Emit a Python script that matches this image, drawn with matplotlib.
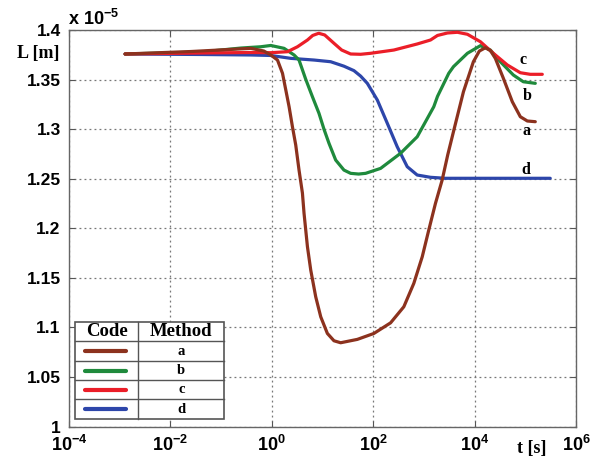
import matplotlib
matplotlib.use('Agg')
import matplotlib.pyplot as plt
from matplotlib.patches import Rectangle
import numpy as np

# ---- data: log10(t [s]) and L in units of 1e-5 m ----
logt_a = [-2.894, -1.594, -0.413, -0.157, -0.020, 0.112, 0.211, 0.276, 0.341, 0.407,
          0.472, 0.537, 0.604, 0.636, 0.703, 0.768, 0.866, 0.965, 1.096, 1.226, 1.358,
          1.687, 2.014, 2.343, 2.604, 2.801, 2.967, 3.096, 3.228, 3.360, 3.470, 3.583,
          3.780, 3.976, 4.094, 4.213, 4.311, 4.409, 4.567, 4.744, 4.902, 5.040, 5.197]
L_a = [1.3758, 1.3783, 1.3815, 1.3788, 1.3748, 1.3697, 1.3563, 1.3395, 1.3226, 1.3024,
       1.2840, 1.2587, 1.2355, 1.2150, 1.1813, 1.1578, 1.1309, 1.1107, 1.0939, 1.0865,
       1.0845, 1.0879, 1.0939, 1.1046, 1.1208, 1.1444, 1.1712, 1.1982, 1.2251, 1.2486,
       1.2740, 1.2974, 1.3377, 1.3680, 1.3788, 1.3821, 1.3793, 1.3714, 1.3513, 1.3276,
       1.3125, 1.3082, 1.3075]

logt_b = [-2.894, -1.398, -0.610, -0.217, -0.020, 0.242, 0.439, 0.537, 0.669, 0.801,
          0.931, 1.030, 1.128, 1.260, 1.423, 1.555, 1.713, 1.850, 2.146, 2.539, 2.868,
          3.195, 3.268, 3.490, 3.583, 3.858, 4.114, 4.311, 4.508, 4.764, 4.961, 5.197]
L_b = [1.3758, 1.3778, 1.3818, 1.3831, 1.3844, 1.3815, 1.3748, 1.3697, 1.3503, 1.3327,
       1.3159, 1.2998, 1.2857, 1.2688, 1.2587, 1.2554, 1.2547, 1.2554, 1.2604, 1.2756,
       1.2923, 1.3226, 1.3330, 1.3563, 1.3630, 1.3765, 1.3842, 1.3798, 1.3680, 1.3546,
       1.3478, 1.3462]

logt_c = [-2.894, -1.398, -0.413, -0.020, 0.309, 0.506, 0.703, 0.807, 0.925, 1.043,
          1.226, 1.378, 1.555, 1.752, 1.949, 2.408, 2.868, 3.130, 3.268, 3.465, 3.661,
          3.858, 4.114, 4.370, 4.646, 4.902, 5.098, 5.335]
L_c = [1.3758, 1.3768, 1.3773, 1.3771, 1.3781, 1.3831, 1.3899, 1.3945, 1.3967, 1.3950,
       1.3866, 1.3798, 1.3758, 1.3755, 1.3765, 1.3798, 1.3859, 1.3899, 1.3945, 1.3970,
       1.3977, 1.3957, 1.3882, 1.3765, 1.3647, 1.3569, 1.3553, 1.3553]

logt_d = [-2.894, -1.398, -0.413, -0.020, 0.374, 0.833, 1.161, 1.423, 1.620, 1.752,
          1.884, 2.081, 2.278, 2.474, 2.671, 2.868, 3.130, 3.425, 5.492]
L_d = [1.3758, 1.3753, 1.3748, 1.3743, 1.3714, 1.3697, 1.3680, 1.3635, 1.3590, 1.3535,
       1.3462, 1.3294, 1.3059, 1.2822, 1.2621, 1.2537, 1.2514, 1.2504, 1.2504]

methods = ['a', 'b', 'c', 'd']
colors = ['#8C321E', '#1F8A3C', '#EB1E28', '#2D46AA']

# end labels next to the curves (t, L)
label_t = [1.07e5, 1.07e5, 8.9e4, 1.03e5]
label_L = [1.2985, 1.3335, 1.3700, 1.2585]

x_ticks = [1e-4, 1e-2, 1e0, 1e2, 1e4, 1e6]
x_tick_labels = [r'$10^{-4}$', r'$10^{-2}$', r'$10^{0}$', r'$10^{2}$', r'$10^{4}$', r'$10^{6}$']
y_ticks = [1.0, 1.05, 1.1, 1.15, 1.2, 1.25, 1.3, 1.35, 1.4]
y_tick_labels = ['1', '1.05', '1.1', '1.15', '1.2', '1.25', '1.3', '1.35', '1.4']

plt.rcParams['mathtext.fontset'] = 'custom'
plt.rcParams['mathtext.rm'] = 'Liberation Sans:bold'
plt.rcParams['mathtext.it'] = 'Liberation Sans:bold'
plt.rcParams['mathtext.bf'] = 'Liberation Sans:bold'

sans = 'Liberation Sans'
serif = 'Liberation Serif'

fig = plt.figure(figsize=(5.99, 4.63), dpi=100)
fig.patch.set_facecolor('white')
ax = fig.add_axes([0.1152, 0.0788, 0.8464, 0.8564])

series_t = [logt_a, logt_b, logt_c, logt_d]
series_L = [L_a, L_b, L_c, L_d]
# draw d first so the others sit on top like the original
for i in [3, 1, 2, 0]:
    ax.plot(10 ** np.array(series_t[i]), series_L[i], color=colors[i], linewidth=2.3,
            solid_capstyle='round', solid_joinstyle='round', zorder=3)

for m, tx, ly in zip(methods, label_t, label_L):
    ax.text(tx, ly, m, fontsize=11.5, fontweight='bold', family=serif,
            ha='center', va='center', zorder=4)

ax.set_xscale('log')
ax.set_xlim(1e-4, 1e6)
ax.set_ylim(1.0, 1.4)
ax.set_xticks(x_ticks)
ax.set_xticklabels(x_tick_labels)
ax.xaxis.set_minor_locator(matplotlib.ticker.NullLocator())
ax.set_yticks(y_ticks)
ax.set_yticklabels(y_tick_labels)

for lab in ax.get_yticklabels():
    lab.set_fontfamily(sans)
    lab.set_fontweight('bold')
    lab.set_fontsize(12.5)
for lab in ax.get_xticklabels():
    lab.set_fontsize(13)

ax.tick_params(direction='in', length=4, width=0.8, top=True, right=True,
               colors='#555555', labelcolor='black', pad=6)

ax.grid(True, linestyle=(0, (1.5, 2.5)), color='#777777', linewidth=0.9)
ax.set_axisbelow(True)
for s in ax.spines.values():
    s.set_color('#666666')
    s.set_linewidth(1.0)

# axis labels placed like the original
fig.text(0.064, 0.885, 'L [m]', fontsize=13, fontweight='bold', family=serif,
         ha='center', va='center')
fig.text(0.887, 0.032, 't [s]', fontsize=13, fontweight='bold', family=serif,
         ha='center', va='center')
fig.text(0.113, 0.945, r'x 10$^{-5}$', fontsize=13, fontweight='bold', family=sans,
         ha='left', va='baseline')

# table-style legend
tr = ax.transAxes
x0, x1, xdiv = 0.0118, 0.3063, 0.1367
y_top, y_bot = 0.2643, 0.0189
row_lines = [0.2156, 0.1652, 0.1173, 0.0686]
row_mid = [0.1904, 0.1412, 0.0931, 0.0436]
edge = '#555555'

ax.add_patch(Rectangle((x0, y_bot), x1 - x0, y_top - y_bot, transform=tr,
                       facecolor='white', edgecolor=edge, linewidth=1.2, zorder=5))
ax.plot([xdiv, xdiv], [y_bot, y_top], transform=tr, color=edge, linewidth=1.0, zorder=6)
for yl in row_lines:
    ax.plot([x0, x1], [yl, yl], transform=tr, color=edge, linewidth=1.0, zorder=6)

ax.text((x0 + xdiv) / 2, 0.2405, 'Code', transform=tr, fontsize=13.5, fontweight='bold',
        family=serif, ha='center', va='center', zorder=7)
ax.text((xdiv + x1) / 2, 0.2405, 'Method', transform=tr, fontsize=13.5, fontweight='bold',
        family=serif, ha='center', va='center', zorder=7)

for m, c, ym in zip(methods, colors, row_mid):
    ax.plot([0.0316, 0.1124], [ym, ym], transform=tr, color=c, linewidth=3.0,
            solid_capstyle='round', zorder=7)
    ax.text((xdiv + x1) / 2, ym, m, transform=tr, fontsize=10.5, fontweight='bold',
            family=serif, ha='center', va='center', zorder=7)

fig.savefig('out.png', dpi=100, facecolor='white')
